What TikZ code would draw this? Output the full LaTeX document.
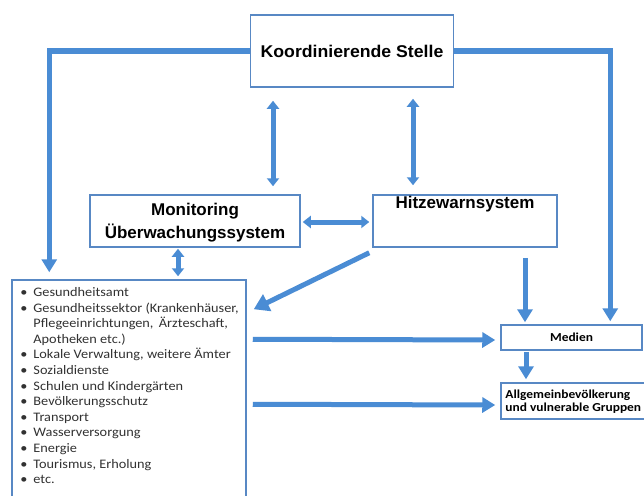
\documentclass[tikz,border=0pt]{standalone}
\usepackage{fontspec}
\setmainfont{Liberation Sans}
\newfontfamily\calib[FakeStretch=1.1]{Carlito}
\usetikzlibrary{arrows.meta,calc}
\definecolor{arrowblue}{RGB}{74,140,212}
\definecolor{boxblue}{RGB}{88,136,196}
\definecolor{listgray}{RGB}{50,50,50}
\begin{document}
\begin{tikzpicture}[x=1pt,y=-1pt,
  box/.style={draw=boxblue, line width=1.5pt, fill=white, inner sep=0pt},
  headfont/.style={font=\bfseries\fontsize{17}{23}\selectfont, text=black, align=center},
  smallfont/.style={font=\calib\bfseries\fontsize{12.2}{13}\selectfont, text=black},
  arr/.style={draw=arrowblue, line width=5pt, -{Triangle[width=15pt,length=13pt]}},
  bigarr/.style={draw=arrowblue, line width=5pt, -{Triangle[width=18pt,length=15pt]}},
  darr/.style={draw=arrowblue, line width=5pt, {Triangle[width=12pt,length=8pt]}-{Triangle[width=12pt,length=8pt]}}]
\useasboundingbox[fill=white] (0,0) rectangle (644,495);

% boxes
\node[box, headfont, minimum width=203pt, minimum height=72pt] (koord) at (352,51) {\addfontfeature{FakeStretch=1.04}Koordinierende Stelle};
\node[box, minimum width=210pt, minimum height=52pt] (mon) at (195,221) {};
\node[headfont] (montext) at ($(mon.center)+(0,2)$) {Monitoring\\Überwachungssystem};
\node[box, minimum width=184pt, minimum height=52pt] (hitze) at (465,221) {};
\node[headfont] (hitzetext) at ($(hitze.north)+(0,10)$) {Hitzewarnsystem};
\node[box, minimum width=234pt, minimum height=220pt] (list) at (129,390) {};
\node[anchor=north west, inner sep=0pt, align=left, text=listgray,
      font=\calib\fontsize{13}{15.6}\selectfont] (listtext) at ($(list.north west)+(9,8)$)
{%
\makebox[13pt][l]{\textbullet}Gesundheitsamt\\
\makebox[13pt][l]{\textbullet}Gesundheitssektor (Krankenhäuser,\\
\makebox[13pt][l]{}Pflegeeinrichtungen, \,Ärzteschaft,\\
\makebox[13pt][l]{}Apotheken etc.)\\
\makebox[13pt][l]{\textbullet}Lokale Verwaltung, weitere Ämter\\
\makebox[13pt][l]{\textbullet}Sozialdienste\\
\makebox[13pt][l]{\textbullet}Schulen und Kindergärten\\
\makebox[13pt][l]{\textbullet}Bevölkerungsschutz\\
\makebox[13pt][l]{\textbullet}Transport\\
\makebox[13pt][l]{\textbullet}Wasserversorgung\\
\makebox[13pt][l]{\textbullet}Energie\\
\makebox[13pt][l]{\textbullet}Tourismus, Erholung\\
\makebox[13pt][l]{\textbullet}etc.};
\node[box, smallfont, minimum width=141pt, minimum height=25pt] (medien) at (571.5,337.5) {Medien};
\node[box, minimum width=149pt, minimum height=36pt] (allg) at (575.5,401) {};
\node[smallfont, anchor=west, align=left, inner sep=0pt] (allgtext) at ($(allg.west)+(5,1)$)
  {Allgemeinbevölkerung\\und vulnerable Gruppen};

% connectors
\draw[arr] (koord.west) -| ($(list.north west)+(38,-7)$);
\draw[arr] (koord.east) -| ($(medien.north west)+(110,-3)$);
\draw[darr] ($(koord.south)+(-79,13)$) -- ($(mon.north)+(78,-8)$);
\draw[darr] ($(koord.south)+(61,11)$) -- ($(hitze.north)+(-52,-9)$);
\draw[darr] ($(mon.east)+(2,1)$) -- ($(hitze.west)+(-3,1)$);
\draw[darr] ($(mon.south)+(-17,1)$) -- ($(list.north)+(49,-3)$);
\draw[bigarr] ($(hitze.south west)+(-3,5)$) -- ($(list.north east)+(7,30)$);
\draw[arr] ($(hitze.south)+(60,10)$) -- ($(medien.north)+(-46.5,-2)$);
\draw[arr] ($(list.north east)+(6,60)$) -- ($(medien.west)+(-5,2.5)$);
\draw[arr] ($(list.north east)+(6,125)$) -- ($(allg.west)+(-5,4)$);
\draw[arr] ($(medien.south)+(-45.5,1)$) -- ($(allg.north)+(-49.5,-3)$);
\end{tikzpicture}
\end{document}
